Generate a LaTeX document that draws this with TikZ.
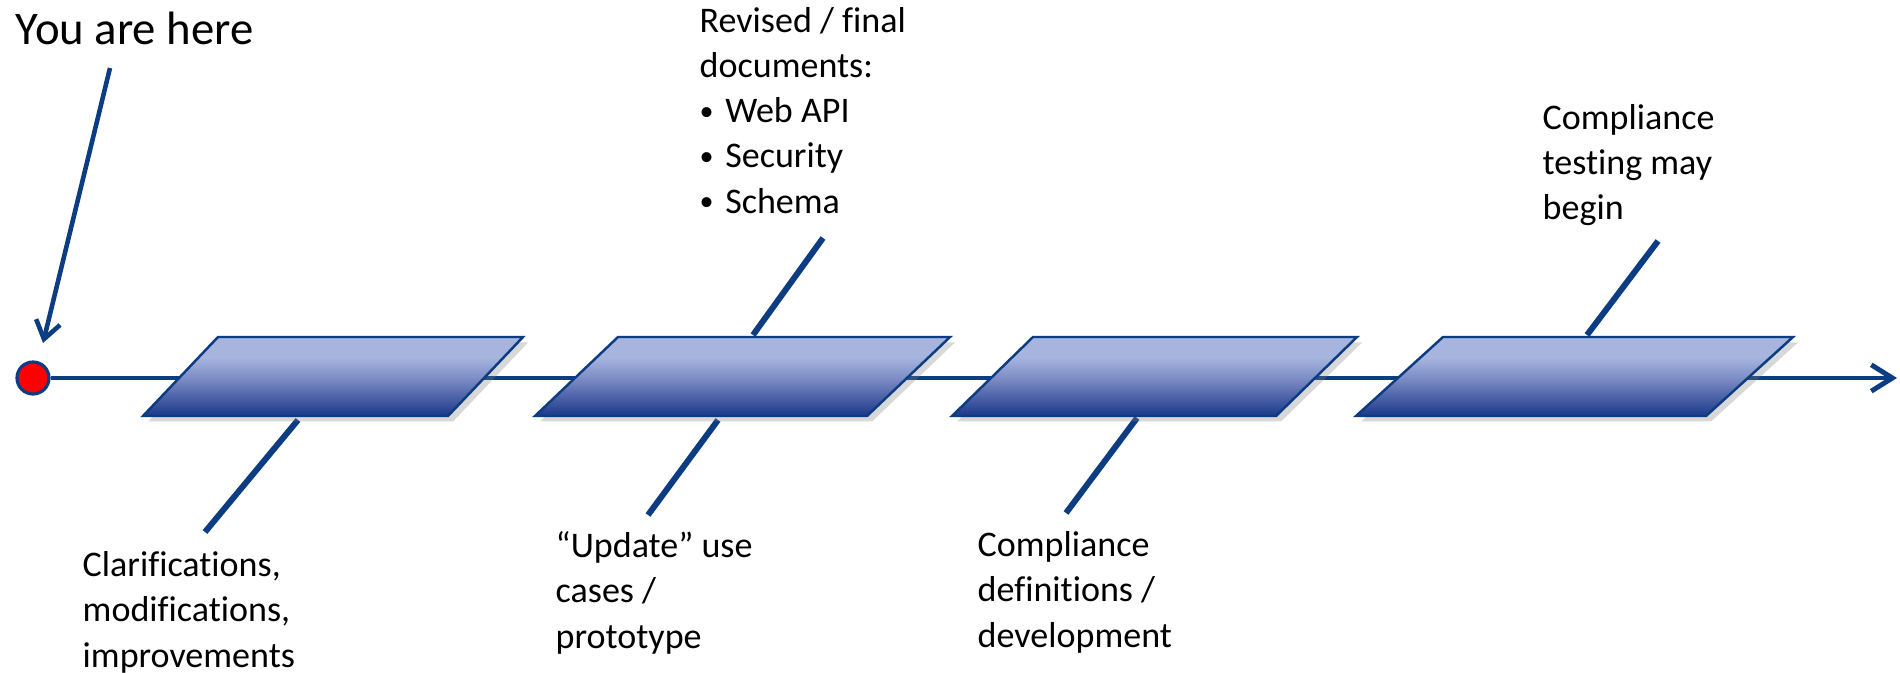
\documentclass[tikz,border=0pt]{standalone}
\usepackage{fontspec}
\setmainfont{Carlito}[Ligatures=NoCommon]
\usetikzlibrary{arrows.meta,shadows}
\usepackage{xcolor}
\definecolor{lineblue}{RGB}{12,60,130}
\definecolor{plight}{RGB}{166,180,222}
\definecolor{pmid}{RGB}{128,144,200}
\definecolor{pdark}{RGB}{28,56,138}
\pgfdeclareverticalshading{phaseshade}{100bp}{color(0bp)=(pdark); color(25bp)=(pdark); color(50bp)=(pmid); color(62bp)=(plight); color(100bp)=(plight)}
\newcommand{\itembul}{{\fontsize{8}{8}\selectfont\raisebox{0.15ex}{•}}\hspace{0.32em}}

\begin{document}
\begin{tikzpicture}[x=0.01cm,y=-0.01cm,
	phase/.style={draw=lineblue,line width=0.7pt,shading=phaseshade,
		drop shadow={opacity=0.3,shadow xshift=1.5pt,shadow yshift=-1.5pt}},
	stem/.style={draw=lineblue,line width=1.7pt},
	axis/.style={draw=lineblue,line width=1.4pt,-{Straight Barb[length=6pt,width=7.5pt,line width=1.4pt]}},
	note/.style={anchor=base west,align=left,inner sep=0pt,font=\fontsize{10.25}{12.8}\selectfont}]
		\useasboundingbox (0,0) rectangle (1900,673);
		\fill[white] (0,0) rectangle (1900,673);
		% time line
		\node[circle,draw=lineblue,line width=0.9pt,fill=red,minimum size=0.32cm,inner sep=0pt] (here) at (33,378) {};
		\coordinate (tip) at (1897,378);
		\draw[axis] (here) -- (tip);
		% pointer
		\node[anchor=base west,inner sep=0pt,font=\fontsize{13.3}{16}\selectfont] (youhere) at (15,45) {You are here};
		\coordinate (hereTail) at (110,68);
		\coordinate (hereHead) at (43,343);
		\draw[lineblue,line width=1.3pt,-{Straight Barb[length=5pt,width=7pt,line width=1.3pt]}] (hereTail) -- (hereHead);
		% stems
		\coordinate (s1a) at (298,420); \coordinate (s1b) at (205,532);
		\coordinate (s2a) at (753,335); \coordinate (s2b) at (823,238);
		\coordinate (s3a) at (718,420); \coordinate (s3b) at (648,515);
		\coordinate (s4a) at (1137,418); \coordinate (s4b) at (1066,513);
		\coordinate (s5a) at (1587,335); \coordinate (s5b) at (1658,241);
		\foreach \a/\b in {s1a/s1b,s2a/s2b,s3a/s3b,s4a/s4b,s5a/s5b}
			\draw[stem] (\a) -- (\b);
		% phases
		\foreach \bl/\w/\sk in {143/305/75,535/332/83,952/324/81,1356/350/87}
			\path[phase] (\bl,416) -- (\bl+\sk,337) -- (\bl+\sk+\w,337) -- (\bl+\w,416) -- cycle;
		% notes (base = last line)
		\node[note] (revised) at (699,213) {Revised / final\\documents:\\\itembul Web API\\\itembul Security\\\itembul Schema};
		\node[note] (clarif) at (82,667) {Clarifications,\\modifications,\\improvements};
		\node[note] (update) at (555,648) {“Update” use\\cases /\\prototype};
		\node[note] (compdef) at (977,647) {Compliance\\definitions /\\development};
		\node[note] (comptest) at (1542,220) {Compliance\\testing may\\begin};
\end{tikzpicture}
\end{document}
